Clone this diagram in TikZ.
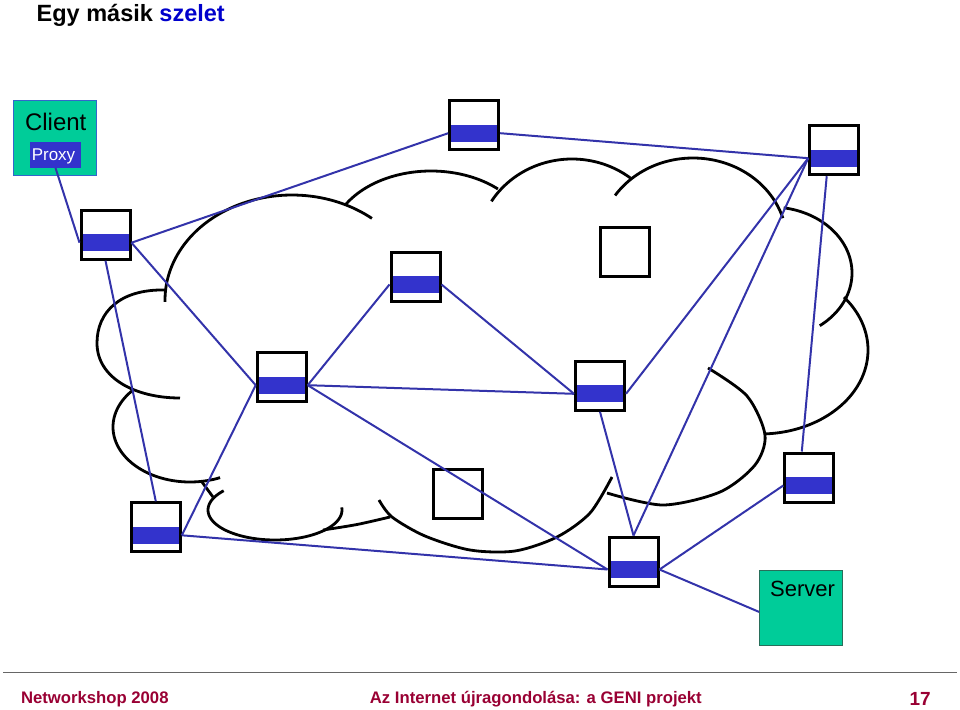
\documentclass[tikz,border=0pt]{standalone}
\usepackage{fontspec}
\setmainfont{Liberation Sans}
\usetikzlibrary{calc}
\definecolor{linkblue}{RGB}{51,51,170}
\definecolor{bandblue}{RGB}{51,51,204}
\definecolor{tealbox}{RGB}{0,204,153}
\definecolor{clientedge}{RGB}{51,102,204}
\definecolor{serveredge}{RGB}{40,110,90}
\definecolor{footred}{RGB}{153,0,51}
\definecolor{titleblue}{RGB}{0,0,204}
\newcommand\lobe[6]{\draw[cloudline] plot[domain=#5:#6,samples=60,variable=\t] ({#1+#3*cos(\t)},{#2-#4*sin(\t)});}
\newcommand\rtr[3]{%
  \node[router] (#1) at (#2,#3) {};
  \coordinate (#1l) at ($(#1.west)+(0,8)$);
  \coordinate (#1r) at ($(#1.east)+(0,8)$);}
\begin{document}
\begin{tikzpicture}[x=1pt,y=-1pt,
  cloudline/.style={draw=black,line width=2.8pt},
  link/.style={draw=linkblue,line width=2pt},
  router/.style={draw=black,line width=3pt,fill=white,minimum width=49pt,minimum height=49pt,inner sep=0pt,
    path picture={\fill[bandblue] ($(path picture bounding box.north west)+(0,24)$) rectangle ($(path picture bounding box.north east)+(0,41)$);}},
  plainbox/.style={draw=black,line width=3pt,fill=white,minimum width=49pt,minimum height=49pt,inner sep=0pt},
  txt/.style={inner sep=0pt,anchor=base}]
\useasboundingbox (0,0) rectangle (960,709);

% cloud
\lobe{292}{300}{127}{105}{51}{181}
\lobe{431}{241}{100}{70}{48}{149}
\lobe{572}{249}{95}{90}{52}{148}
\lobe{693}{243}{94}{85}{17}{146}
\lobe{771}{273}{81}{66}{-53}{81}
\lobe{760}{350}{108}{84}{-88}{39}
\lobe{275}{510}{67}{30}{140}{365}
\lobe{190}{427}{77}{55}{138}{293}
\draw[cloudline] plot[smooth] coordinates {(708,368) (747,396) (765,435) (755,465) (720,492) (663,505) (607,493)};
\draw[cloudline] plot[smooth] coordinates {(379,500) (392,517) (425,536) (470,550) (515,551) (557,537) (590,513) (612,477)};
\draw[cloudline] (165,290) .. controls (120,289) and (97,312) .. (97,343) .. controls (97,378) and (135,398) .. (180,398);
\draw[cloudline] (202,482) -- (213,497);
\draw[cloudline] plot[smooth] coordinates {(323,530) (357,524.5) (390,517)};

% client and server
\node[draw=clientedge,line width=1pt,fill=tealbox,minimum width=83pt,minimum height=75pt,inner sep=0pt] (client) at (55.3,137.9) {};
\node[txt,font=\fontsize{24}{28}\selectfont] (clientlbl) at (55.7,130) {Client};
\node[fill=bandblue,minimum width=51pt,minimum height=25.4pt,inner sep=0pt] (proxy) at (55.5,155) {};
\node[txt,text=white,font=\fontsize{17}{20}\selectfont] (proxylbl) at (53.5,160) {Proxy};
\node[draw=serveredge,line width=1pt,fill=tealbox,minimum width=83.3pt,minimum height=75pt,inner sep=0pt] (server) at (801.2,607.9) {};
\node[txt,font=\fontsize{22}{26}\selectfont] (serverlbl) at (802.5,596.7) {Server};

% routers
\rtr{r1}{474.2}{125.2}
\rtr{r2}{834.2}{150.2}
\rtr{r3}{105.5}{234.7}
\rtr{r4}{415.5}{276.5}
\rtr{r5}{281.7}{377.2}
\rtr{r6}{600}{385.8}
\rtr{r7}{809.3}{477.5}
\rtr{r8}{155.8}{527.3}
\rtr{r9}{633.5}{561.5}
\node[plainbox] (s1) at (625.2,251.5) {};
\node[plainbox] (s2) at (457.5,494.2) {};

% links
\draw[link] (proxy.south) -- (r3l);
\draw[link] (r3r) -- (r1l);
\draw[link] (r1r) -- (r2l);
\draw[link] (r3r) -- (r5l);
\draw[link] (r3.south) -- (r8.north);
\draw[link] (r8r) -- (r5l);
\draw[link] (r5r) -- (r4l);
\draw[link] (r5r) -- (r6l);
\draw[link] (r5r) -- (r9l);
\draw[link] (r8r) -- (r9l);
\draw[link] (r4r) -- (r6l);
\draw[link] (r6r) -- (r2l);
\draw[link] (r6.south) -- (r9.north);
\draw[link] (r9.north) -- (r2l);
\draw[link] ($(r2.south)+(-7.5,0)$) -- ($(r7.north)+(-7.5,0)$);
\draw[link] (r7l) -- (r9r);
\draw[link] (r9r) -- ($(server.west)+(0,4)$);

% title and footer
\node[txt,anchor=base west,font=\fontsize{23.5}{28}\selectfont\bfseries] (title) at (36.5,21.7) {Egy másik \textcolor{titleblue}{szelet}};
\draw[draw=black!60,line width=1.6pt] (3,672.5) coordinate (fl) -- (957,672.5) coordinate (fr);
\node[txt,anchor=base west,text=footred,font=\fontsize{16.7}{20}\selectfont\bfseries] (foot1) at (20.8,703.3) {Networkshop 2008};
\node[txt,anchor=base west,text=footred,font=\fontsize{16.7}{20}\selectfont\bfseries] (foot2) at (369.7,703.3) {Az Internet újragondolása: a GENI projekt};
\node[txt,anchor=base east,text=footred,font=\fontsize{19}{22}\selectfont\bfseries] (foot3) at (931,705) {17};
\end{tikzpicture}
\end{document}
